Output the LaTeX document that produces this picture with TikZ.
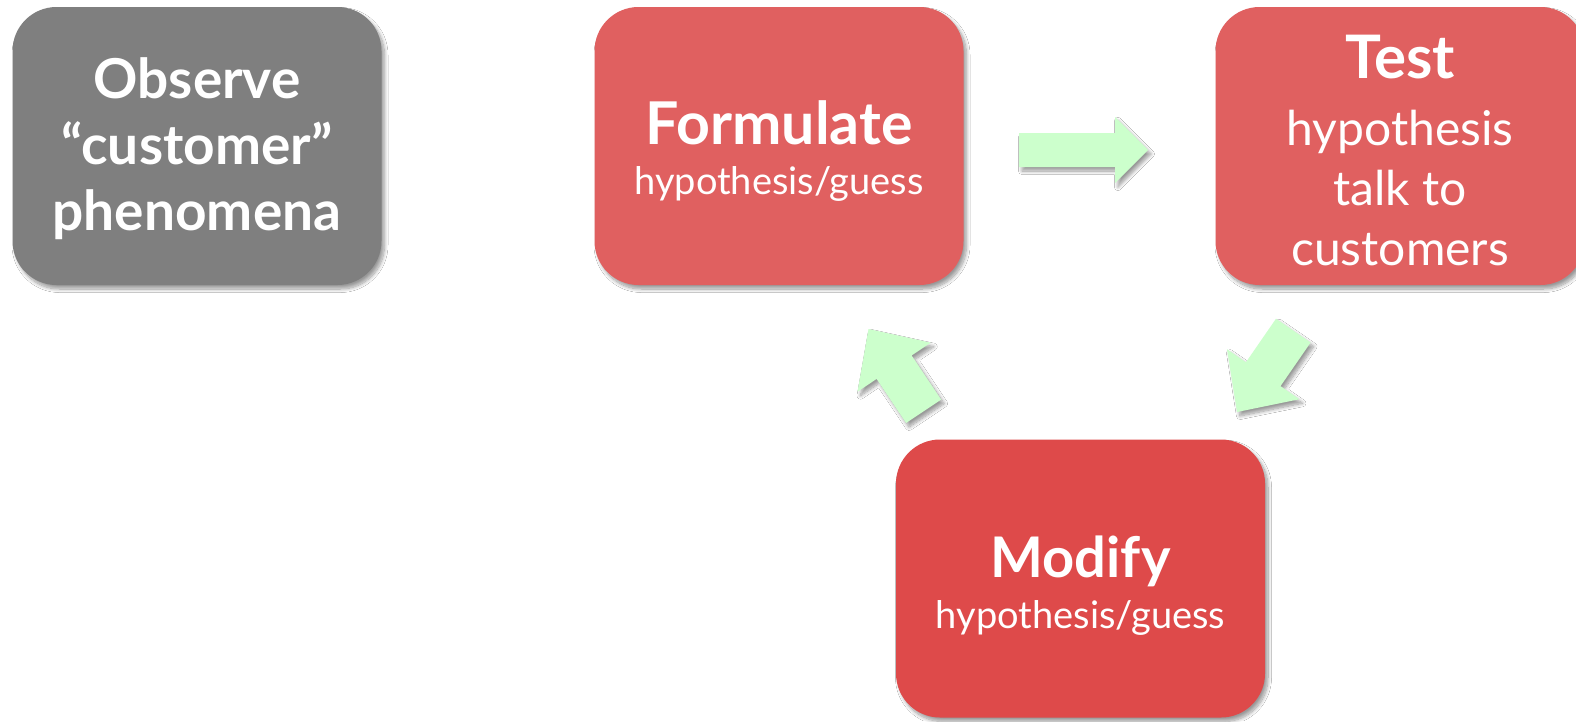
\documentclass[tikz,border=0pt]{standalone}
\usepackage{fontspec}
\setmainfont{Lato}
\usetikzlibrary{shadows.blur}

\definecolor{obsgray}{HTML}{7F7F7F}
\definecolor{stepred}{HTML}{E06060}
\definecolor{modred}{HTML}{DE4A4A}
\definecolor{arrowgreen}{HTML}{CCFFCC}

\tikzset{
  softshadow/.style={blur shadow={shadow xshift=3pt, shadow yshift=-4pt,
      shadow blur radius=3.5pt, shadow blur steps=10, shadow opacity=40}},
  stepbox/.style={rounded corners=44pt, minimum width=369pt, minimum height=278pt,
      inner sep=0pt, softshadow},
  steptext/.style={align=center, text=white, inner sep=0pt},
  blockarrow/.style={fill=arrowgreen, softshadow},
}
\newcommand{\headline}[2]{{\fontsize{#1}{#1}\selectfont\bfseries #2}}

\begin{document}
\begin{tikzpicture}[x=1pt, y=-1pt]
  \useasboundingbox (0,0) rectangle (1576,721);
  \fill[white] (0,0) rectangle (1576,721);
  \clip (0,0) rectangle (1576,721);

  % the four stages
  \node[stepbox, fill=obsgray] (observe) at (197,146) {};
  \node[steptext, font=\fontsize{55}{66}\selectfont\bfseries]
    (observe-text) at ([yshift=-3pt]observe.center) {Observe\\“customer”\\phenomena};

  \node[stepbox, fill=stepred] (formulate) at (779,146) {};
  \node[steptext, font=\fontsize{38}{50}\selectfont]
    (formulate-text) at ([yshift=-5.5pt]formulate.center) {\headline{59}{Formulate}\\hypothesis/guess};

  \node[stepbox, fill=stepred] (test) at (1400,146) {};
  \node[steptext, font=\fontsize{48}{60}\selectfont]
    (test-text) at ([yshift=-4pt]test.center) {\headline{60}{Test}\\[7pt]hypothesis\\talk to\\customers};

  \node[stepbox, fill=modred] (modify) at (1080.5,578.5) {};
  \node[steptext, font=\fontsize{38}{51}\selectfont]
    (modify-text) at ([yshift=-7pt]modify.center) {\headline{56}{Modify}\\hypothesis/guess};

  % block arrows of the cycle
  \fill[blockarrow] (1019,133) -- (1115,133) -- (1115,117) -- (1148,150)
    -- (1115,183) -- (1115,167) -- (1019,167) -- cycle;

  \fill[blockarrow] (1276.0,318.7) -- (1245.9,362.3) -- (1227.0,349.2) -- (1237,412)
    -- (1299.4,399.2) -- (1280.5,386.1) -- (1310.6,342.5) -- cycle;

  \fill[blockarrow] (941.1,399.6) -- (911.6,355.5) -- (930.7,342.7) -- (868.5,329)
    -- (857.5,391.7) -- (876.6,378.9) -- (906.1,423.0) -- cycle;
\end{tikzpicture}
\end{document}
